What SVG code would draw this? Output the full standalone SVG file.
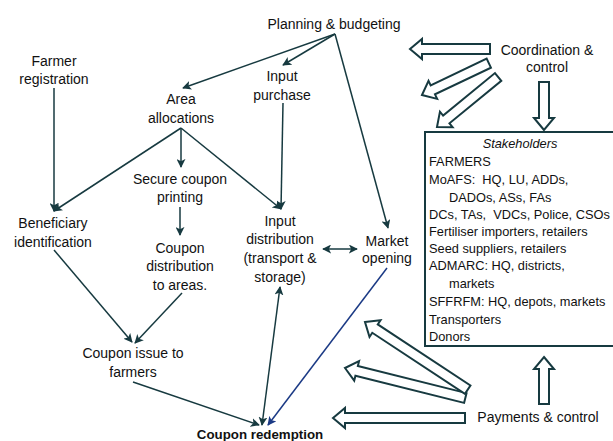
<svg xmlns="http://www.w3.org/2000/svg" width="613" height="441" viewBox="0 0 613 441">
<style>
.t{font-family:"Liberation Sans",Arial,sans-serif;font-size:14px;fill:#111;text-anchor:middle}
.b{font-family:"Liberation Sans",Arial,sans-serif;font-size:12.8px;fill:#111;white-space:pre}
.ln{stroke:#173a40;stroke-width:1.5;fill:none}
.blk{fill:#fff;stroke:#173a40;stroke-width:2;stroke-linejoin:miter}
</style>
<defs>
<marker id="ah" viewBox="0 0 10 10" refX="9" refY="5" markerWidth="9" markerHeight="9" markerUnits="userSpaceOnUse" orient="auto-start-reverse">
<path d="M0,0 L10,5 L0,10 L2.5,5 z" fill="#173a40"/>
</marker>
<marker id="ahb" viewBox="0 0 10 10" refX="9" refY="5" markerWidth="9" markerHeight="9" markerUnits="userSpaceOnUse" orient="auto">
<path d="M0,0 L10,5 L0,10 L2.5,5 z" fill="#1b3a85"/>
</marker>
</defs>
<rect width="613" height="441" fill="#fff"/>

<g id="planning"><text class="t" x="334" y="29">Planning &amp; budgeting</text></g>
<g id="farmer-registration"><text class="t" x="54" y="66">Farmer</text><text class="t" x="54" y="84">registration</text></g>
<g id="area-allocations"><text class="t" x="181" y="104">Area</text><text class="t" x="181" y="123">allocations</text></g>
<g id="input-purchase"><text class="t" x="282" y="81">Input</text><text class="t" x="282" y="100">purchase</text></g>
<g id="secure-printing"><text class="t" x="180" y="184">Secure coupon</text><text class="t" x="180" y="202">printing</text></g>
<g id="beneficiary"><text class="t" x="53" y="228">Beneficiary</text><text class="t" x="53" y="247">identification</text></g>
<g id="coupon-distribution"><text class="t" x="180" y="253">Coupon</text><text class="t" x="180" y="271">distribution</text><text class="t" x="180" y="290">to areas.</text></g>
<g id="input-distribution"><text class="t" x="280" y="226">Input</text><text class="t" x="280" y="244">distribution</text><text class="t" x="280" y="263">(transport &amp;</text><text class="t" x="280" y="282">storage)</text></g>
<g id="market-opening"><text class="t" x="387" y="246">Market</text><text class="t" x="387" y="263">opening</text></g>
<g id="coupon-issue"><text class="t" x="133" y="358">Coupon issue to</text><text class="t" x="133" y="377">farmers</text></g>
<g id="coupon-redemption"><text class="t" x="260" y="438.5" style="font-weight:bold;font-size:13.3px">Coupon redemption</text></g>
<g id="coordination"><text class="t" x="547" y="55">Coordination &amp;</text><text class="t" x="547" y="72">control</text></g>
<g id="payments"><text class="t" x="538" y="422">Payments &amp; control</text></g>

<g id="stakeholders">
<rect x="425" y="132" width="200" height="214" fill="#fff" stroke="#173a40" stroke-width="2"/>
<text class="b" x="520" y="148" text-anchor="middle" font-style="italic">Stakeholders</text>
<text class="b" x="429" y="166">FARMERS</text>
<text class="b" x="429" y="184">MoAFS:  HQ, LU, ADDs,</text>
<text class="b" x="449" y="202">DADOs, ASs, FAs</text>
<text class="b" x="429" y="219">DCs, TAs,  VDCs, Police, CSOs</text>
<text class="b" x="429" y="236">Fertiliser importers, retailers</text>
<text class="b" x="429" y="253">Seed suppliers, retailers</text>
<text class="b" x="429" y="270">ADMARC: HQ, districts,</text>
<text class="b" x="449" y="288">markets</text>
<text class="b" x="429" y="306">SFFRFM: HQ, depots, markets</text>
<text class="b" x="429" y="324">Transporters</text>
<text class="b" x="429" y="341">Donors</text>
</g>

<g id="connectors">
<line class="ln" x1="335" y1="34" x2="183" y2="88" marker-end="url(#ah)"/>
<line class="ln" x1="335" y1="34" x2="283" y2="65" marker-end="url(#ah)"/>
<line class="ln" x1="335" y1="34" x2="388" y2="228" marker-end="url(#ah)"/>
<line class="ln" x1="54" y1="88" x2="54" y2="211" marker-end="url(#ah)"/>
<line class="ln" x1="181" y1="128" x2="54" y2="211" marker-end="url(#ah)"/>
<line class="ln" x1="181" y1="128" x2="181" y2="167" marker-end="url(#ah)"/>
<line class="ln" x1="181" y1="128" x2="281" y2="209" marker-end="url(#ah)"/>
<line class="ln" x1="283" y1="103" x2="281" y2="209" marker-end="url(#ah)"/>
<line class="ln" x1="180" y1="207" x2="180" y2="235" marker-end="url(#ah)"/>
<line class="ln" x1="323" y1="249" x2="357" y2="249" marker-start="url(#ah)" marker-end="url(#ah)"/>
<line class="ln" x1="280" y1="287" x2="262" y2="425" marker-start="url(#ah)" marker-end="url(#ah)"/>
<line x1="387" y1="268" x2="268" y2="425" stroke="#1b3a85" stroke-width="1.5" marker-end="url(#ahb)"/>
<line class="ln" x1="54" y1="250" x2="132" y2="342" marker-end="url(#ah)"/>
<line class="ln" x1="182" y1="293" x2="135" y2="343" marker-end="url(#ah)"/>
<line class="ln" x1="133" y1="382" x2="259" y2="425" marker-end="url(#ah)"/>

<polygon class="blk" transform="translate(410,49)" points="0,0 12,-10 12,-5 80,-5 80,5 12,5 12,10"/>
<polygon class="blk" transform="translate(422,95) rotate(-25.5)" points="0,0 12,-10 12,-5 74,-5 74,5 12,5 12,10"/>
<polygon class="blk" transform="translate(437,127) rotate(-39.3)" points="0,0 12,-10 12,-5 79,-5 79,5 12,5 12,10"/>
<polygon class="blk" transform="translate(544,130) rotate(-90)" points="0,0 12,-10 12,-5 48,-5 48,5 12,5 12,10"/>
<polygon class="blk" transform="translate(544,357) rotate(90)" points="0,0 12,-10 12,-5 47,-5 47,5 12,5 12,10"/>
<polygon class="blk" transform="translate(333,418)" points="0,0 12,-10 12,-5 132,-5 132,5 12,5 12,10"/>
<polygon class="blk" transform="translate(345,368) rotate(14)" points="0,0 12,-10 12,-5 124,-5 124,5 12,5 12,10"/>
<polygon class="blk" transform="translate(365,322) rotate(33.4)" points="0,0 12,-10 12,-5 123,-5 123,5 12,5 12,10"/>
</g>
</svg>
